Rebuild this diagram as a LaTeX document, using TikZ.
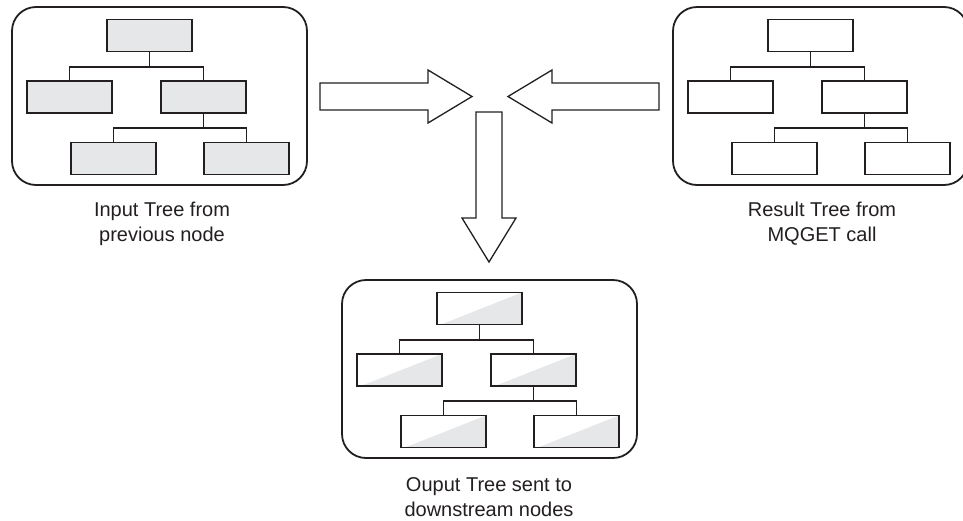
\documentclass[tikz,border=0pt]{standalone}
\usepackage{fontspec}
\setmainfont{Liberation Sans}
\definecolor{ink}{HTML}{231F20}
\definecolor{boxgray}{HTML}{E6E7E8}
\tikzset{
  container/.style={draw=ink, line width=1.8pt, rounded corners=24pt, minimum width=295pt, minimum height=178pt, inner sep=0pt},
  tbox/.style={draw=ink, line width=1.7pt, minimum width=85pt, minimum height=32pt, inner sep=0pt},
  greybox/.style={tbox, fill=boxgray},
  whitebox/.style={tbox, fill=white},
  halfbox/.style={tbox, fill=white, path picture={
      \fill[boxgray] ([xshift=4pt]path picture bounding box.south west) -- (path picture bounding box.north east) -- (path picture bounding box.south east) -- cycle;}},
  link/.style={draw=ink, line width=1.4pt},
  bigarrow/.style={draw=ink, line width=1.3pt, fill=white, line join=miter},
  caption/.style={font=\fontsize{20}{25}\selectfont, align=center, inner sep=0pt, anchor=north, text=ink}
}
\newcommand\drawtree[4]{%
  \node[container] (#1frame) at ({#2+147.5},{#3+89}) {};
  \node[#4] (#1root) at ({#2+137.5},{#3+28.5}) {};
  \node[#4] (#1lc) at ({#2+57.5},{#3+90}) {};
  \node[#4] (#1rc) at ({#2+191.5},{#3+90}) {};
  \node[#4] (#1bl) at ({#2+101.5},{#3+151.5}) {};
  \node[#4] (#1br) at ({#2+234.5},{#3+151.5}) {};
  \draw[link] (#1root.south) -- ++(0,14.5) coordinate (#1ja) -| (#1lc.north);
  \draw[link] (#1ja) -| (#1rc.north);
  \draw[link] (#1rc.south) -- ++(0,14) coordinate (#1jb) -| (#1bl.north);
  \draw[link] (#1jb) -| (#1br.north);
}
\begin{document}
\begin{tikzpicture}[x=1pt,y=-1pt]
\clip (0,0) rectangle (963,520);
\fill[white] (0,0) rectangle (963,520);

\drawtree{in}{12}{7}{greybox}
\drawtree{res}{673}{7}{whitebox}
\drawtree{out}{342}{280}{halfbox}

% big arrows
\draw[bigarrow] (320,83) -- (428,83) -- (428,70) -- (472,96.5) -- (428,123) -- (428,110) -- (320,110) -- cycle;
\draw[bigarrow] (659,83) -- (552,83) -- (552,70) -- (508,96.5) -- (552,123) -- (552,110) -- (659,110) -- cycle;
\draw[bigarrow] (476,112) -- (502,112) -- (502,218) -- (516,218) -- (489,262) -- (462,218) -- (476,218) -- cycle;

% captions
\node[caption] (incap) at (162,202) {Input Tree from\\previous node};
\node[caption] (rescap) at (822,202) {Result Tree from\\MQGET call};
\node[caption] (outcap) at (489,477) {Ouput Tree sent to\\downstream nodes};
\end{tikzpicture}
\end{document}
